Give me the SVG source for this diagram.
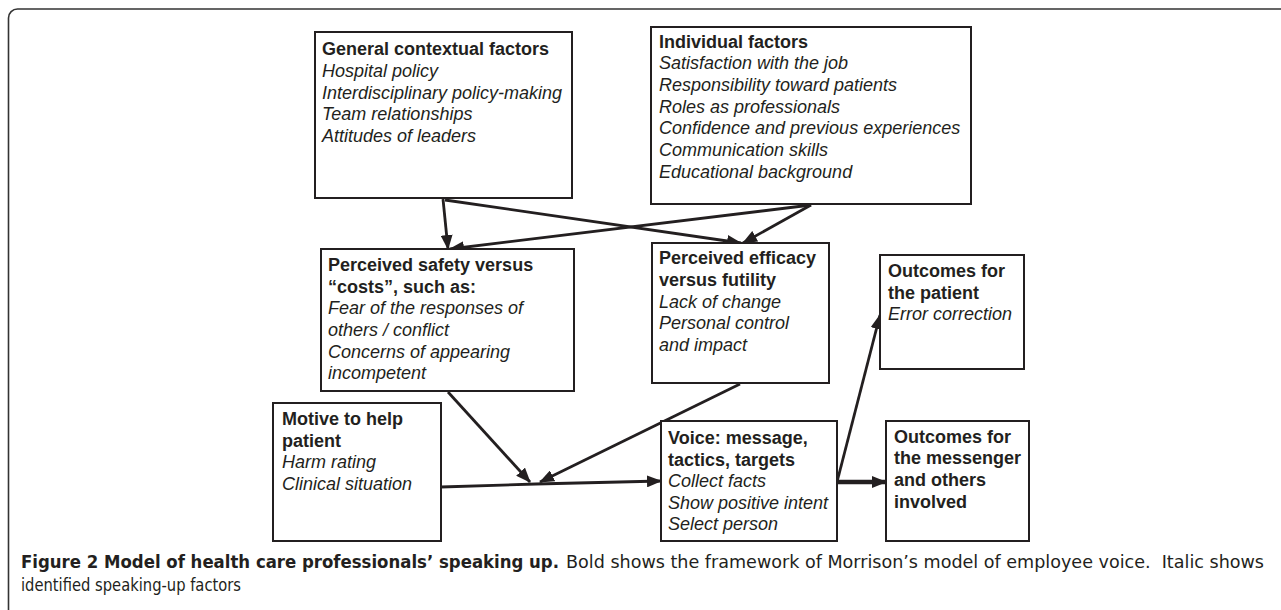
<svg xmlns="http://www.w3.org/2000/svg" width="1281" height="610" viewBox="0 0 1281 610">
<defs>
<style>
.box{fill:#fff;stroke:#231f20;stroke-width:2}
.t{font-family:"Liberation Sans",Arial,sans-serif;font-size:18px;fill:#231f20}
.b{font-weight:bold}
.i{font-style:italic}
.c{stroke:#231f20;stroke-width:2.8;fill:none;marker-end:url(#ah)}
.cap{font-family:"Liberation Sans Narrow","DejaVu Sans Condensed","Liberation Sans",sans-serif;font-size:18px;fill:#231f20}
</style>
<marker id="ah" viewBox="0 0 15 12" refX="14" refY="6" markerWidth="15" markerHeight="12" markerUnits="userSpaceOnUse" orient="auto">
<path d="M0,0 L15,6 L0,12 z" fill="#231f20"/>
</marker>
</defs>
<rect width="1281" height="610" fill="#fff"/>
<path d="M8.5,610 V18 A9,9 0 0 1 17.5,9 H1281" fill="none" stroke="#333" stroke-width="1.6"/>

<g id="connectors">
<line class="c" x1="443" y1="199" x2="448" y2="249"/>
<line class="c" x1="445" y1="200" x2="741" y2="243"/>
<line class="c" x1="811" y1="205" x2="450" y2="249"/>
<line class="c" x1="811" y1="205" x2="743" y2="243"/>
<line class="c" x1="448" y1="392" x2="530" y2="482"/>
<line class="c" x1="740" y1="384" x2="540" y2="482"/>
<polyline class="c" points="441,487 536,484 661,481"/>
<line class="c" x1="837" y1="482" x2="880" y2="315"/>
<line class="c" x1="837" y1="482" x2="886" y2="482" style="stroke-width:4.5"/>
</g>

<g id="general">
<rect class="box" x="315" y="32" width="257" height="166"/>
<text class="t b" x="322" y="55">General contextual factors</text>
<text class="t i" x="322" y="77">Hospital policy</text>
<text class="t i" x="322" y="99">Interdisciplinary policy-making</text>
<text class="t i" x="322" y="120">Team relationships</text>
<text class="t i" x="322" y="142">Attitudes of leaders</text>
</g>

<g id="individual">
<rect class="box" x="651" y="27" width="320" height="177"/>
<text class="t b" x="659" y="48">Individual factors</text>
<text class="t i" x="659" y="69">Satisfaction with the job</text>
<text class="t i" x="659" y="91">Responsibility toward patients</text>
<text class="t i" x="659" y="113">Roles as professionals</text>
<text class="t i" x="659" y="134">Confidence and previous experiences</text>
<text class="t i" x="659" y="156">Communication skills</text>
<text class="t i" x="659" y="178">Educational background</text>
</g>

<g id="safety">
<rect class="box" x="321" y="249" width="253" height="142"/>
<text class="t b" x="328" y="271">Perceived safety versus</text>
<text class="t b" x="328" y="293">“costs”, such as:</text>
<text class="t i" x="328" y="314">Fear of the responses of</text>
<text class="t i" x="328" y="336">others / conflict</text>
<text class="t i" x="328" y="358">Concerns of appearing</text>
<text class="t i" x="328" y="379">incompetent</text>
</g>

<g id="efficacy">
<rect class="box" x="652" y="243" width="177" height="140"/>
<text class="t b" x="659" y="264">Perceived efficacy</text>
<text class="t b" x="659" y="286">versus futility</text>
<text class="t i" x="659" y="308">Lack of change</text>
<text class="t i" x="659" y="329">Personal control</text>
<text class="t i" x="659" y="351">and impact</text>
</g>

<g id="patient-outcomes">
<rect class="box" x="880" y="255" width="144" height="114"/>
<text class="t b" x="888" y="277">Outcomes for</text>
<text class="t b" x="888" y="299">the patient</text>
<text class="t i" x="888" y="320">Error correction</text>
</g>

<g id="motive">
<rect class="box" x="273" y="403" width="168" height="138"/>
<text class="t b" x="282" y="425">Motive to help</text>
<text class="t b" x="282" y="447">patient</text>
<text class="t i" x="282" y="468">Harm rating</text>
<text class="t i" x="282" y="490">Clinical situation</text>
</g>

<g id="voice">
<rect class="box" x="661" y="421" width="176" height="120"/>
<text class="t b" x="668" y="444">Voice: message,</text>
<text class="t b" x="668" y="466">tactics, targets</text>
<text class="t i" x="668" y="487">Collect facts</text>
<text class="t i" x="668" y="509">Show positive intent</text>
<text class="t i" x="668" y="530">Select person</text>
</g>

<g id="messenger-outcomes">
<rect class="box" x="886" y="421" width="143" height="120"/>
<text class="t b" x="894" y="443">Outcomes for</text>
<text class="t b" x="894" y="464">the messenger</text>
<text class="t b" x="894" y="486">and others</text>
<text class="t b" x="894" y="508">involved</text>
</g>

<g id="caption">
<text class="cap b" x="21" y="568" textLength="538" lengthAdjust="spacingAndGlyphs">Figure 2 Model of health care professionals’ speaking up.</text>
<text class="cap" x="566" y="568" textLength="698" lengthAdjust="spacingAndGlyphs" xml:space="preserve">Bold shows the framework of Morrison’s model of employee voice.  Italic shows</text>
<text class="cap" x="21" y="591" textLength="220" lengthAdjust="spacingAndGlyphs">identified speaking-up factors</text>
</g>
</svg>
